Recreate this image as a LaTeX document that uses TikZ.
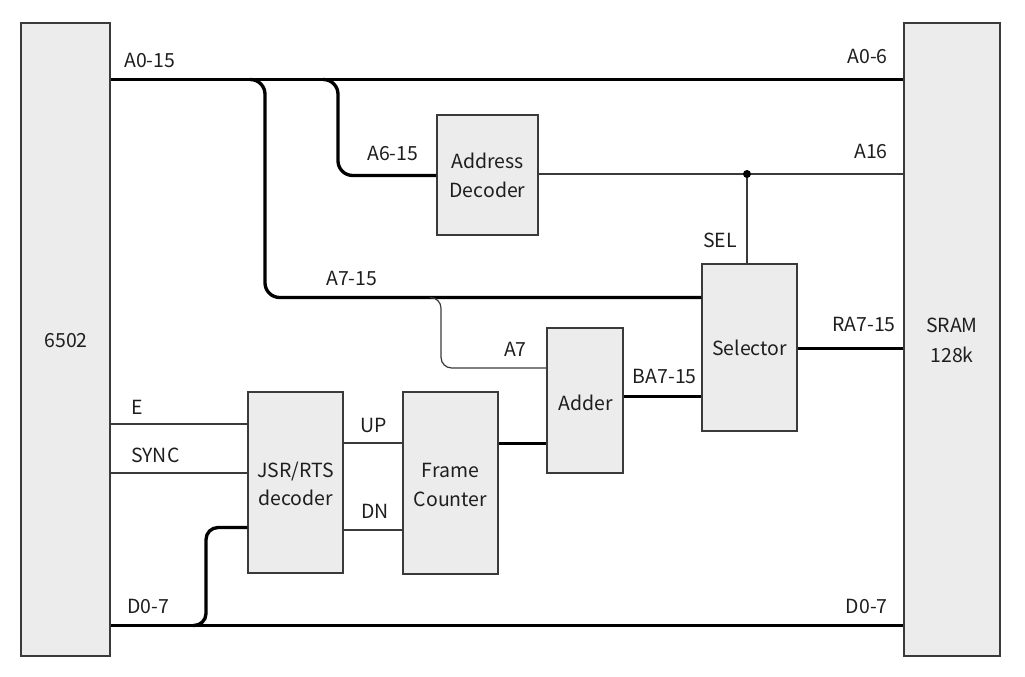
\documentclass[tikz,border=0pt]{standalone}
\usepackage{fontspec}
\setmainfont{Noto Sans CJK SC}
\usetikzlibrary{fit}
\definecolor{boxfill}{HTML}{ECECEC}
\definecolor{boxline}{HTML}{3A3A3A}
\definecolor{txt}{HTML}{1E1E1E}
\tikzset{
  blk/.style={draw=boxline, fill=boxfill, line width=1pt, inner sep=0pt},
  bus/.style={line width=2.5pt, draw=black},
  busr/.style={bus, rounded corners=11pt},
  sig/.style={line width=0.9pt, draw=boxline},
  sigr/.style={sig, rounded corners=8pt},
  lbl/.style={inner sep=0pt, font=\fontsize{14.6}{17}\selectfont, text=txt},
}
\begin{document}
\begin{tikzpicture}[x=0.75pt,y=-0.75pt]
\useasboundingbox (0,0) rectangle (1025,677);

% blocks
\node[blk, fit={(21,23) (110,656)}] (cpu) {};
\node[blk, fit={(904,23) (1000,656)}] (sram) {};
\node[blk, fit={(437,115) (538,235)}] (addr) {};
\node[blk, fit={(702,264) (797,431)}] (sel) {};
\node[blk, fit={(547,328) (623,473)}] (adder) {};
\node[blk, fit={(248,392) (343,573)}] (jsr) {};
\node[blk, fit={(403,392) (498,574)}] (fc) {};

% block texts
\node[lbl, anchor=base] (t6502) at (66,348) {6502};
\node[lbl, anchor=base] (tsram1) at (952,333) {SRAM};
\node[lbl, anchor=base] (tsram2) at (952,363) {128k};
\node[lbl, anchor=base] (taddr1) at (487.5,169) {Address};
\node[lbl, anchor=base] (taddr2) at (487.5,198) {Decoder};
\node[lbl, anchor=base] (tsel) at (749.5,356) {Selector};
\node[lbl, anchor=base] (tadd) at (585.5,410) {Adder};
\node[lbl, anchor=base] (tjsr1) at (295.5,477) {JSR/RTS};
\node[lbl, anchor=base] (tjsr2) at (295.5,505) {decoder};
\node[lbl, anchor=base] (tfc1) at (450.5,477) {Frame};
\node[lbl, anchor=base] (tfc2) at (450.5,506) {Counter};

% helper coordinates
\coordinate (b1) at (250,79.5);
\coordinate (c1) at (265,297.5);
\coordinate (b2) at (323,79.5);
\coordinate (c2) at (338,175.5);
\coordinate (a16) at (747,174);
\coordinate (b3) at (430,297.5);
\coordinate (c3) at (441,368);
\coordinate (mBA) at (660,396.5);
\coordinate (mRA) at (850,348.5);
\coordinate (mFC) at (520,443.5);
\coordinate (mUP) at (370,443);
\coordinate (mDN) at (370,530);
\coordinate (mE) at (180,424);
\coordinate (mS) at (180,473);
\coordinate (b4) at (193,625.5);
\coordinate (c4) at (206,527.5);

% buses
\draw[bus] (b1) -- (cpu.east |- b1);
\draw[bus] (b1) -- (sram.west |- b1);
\draw[busr] (b1) -| (c1) -- (c1 -| sel.west);
\draw[busr] (b2) -| (c2) -- (c2 -| addr.west);
\draw[bus] (mBA) -- (adder.east |- mBA);
\draw[bus] (mBA) -- (sel.west |- mBA);
\draw[bus] (mRA) -- (sel.east |- mRA);
\draw[bus] (mRA) -- (sram.west |- mRA);
\draw[bus] (mFC) -- (fc.east |- mFC);
\draw[bus] (mFC) -- (adder.west |- mFC);
\draw[bus] (b4) -- (cpu.east |- b4);
\draw[bus] (b4) -- (sram.west |- b4);
\draw[busr, rounded corners=9pt] (b4) -| (c4) -- (c4 -| jsr.west);

% signals
\draw[sig] (a16) -- (addr.east |- a16);
\draw[sig] (a16) -- (sram.west |- a16);
\draw[sig] (a16) -- (a16 |- sel.north);
\fill[black] (a16) circle (3pt);
\draw[sigr] (b3) -| (c3) -- (c3 -| adder.west);
\draw[sig] (mE) -- (cpu.east |- mE);
\draw[sig] (mE) -- (jsr.west |- mE);
\draw[sig] (mS) -- (cpu.east |- mS);
\draw[sig] (mS) -- (jsr.west |- mS);
\draw[sig] (mUP) -- (jsr.east |- mUP);
\draw[sig] (mUP) -- (fc.west |- mUP);
\draw[sig] (mDN) -- (jsr.east |- mDN);
\draw[sig] (mDN) -- (fc.west |- mDN);

% labels
\node[lbl, anchor=base west] (lA015) at (124,68) {A0-15};
\node[lbl, anchor=base east] (lA06) at (888,64) {A0-6};
\node[lbl, anchor=base west] (lA615) at (367,161) {A6-15};
\node[lbl, anchor=base east] (lA16) at (888,159) {A16};
\node[lbl, anchor=base east] (lSEL) at (737,248) {SEL};
\node[lbl, anchor=base west] (lA715) at (326,286) {A7-15};
\node[lbl, anchor=base east] (lA7) at (527,357) {A7};
\node[lbl, anchor=base east] (lRA) at (896,332) {RA7-15};
\node[lbl, anchor=base east] (lBA) at (697,383) {BA7-15};
\node[lbl, anchor=base west] (lE) at (131,414) {E};
\node[lbl, anchor=base west] (lSY) at (131,462) {SYNC};
\node[lbl, anchor=base west] (lUP) at (360,432) {UP};
\node[lbl, anchor=base west] (lDN) at (361,518) {DN};
\node[lbl, anchor=base west] (lD1) at (127,613) {D0-7};
\node[lbl, anchor=base east] (lD2) at (888,613) {D0-7};
\end{tikzpicture}
\end{document}
